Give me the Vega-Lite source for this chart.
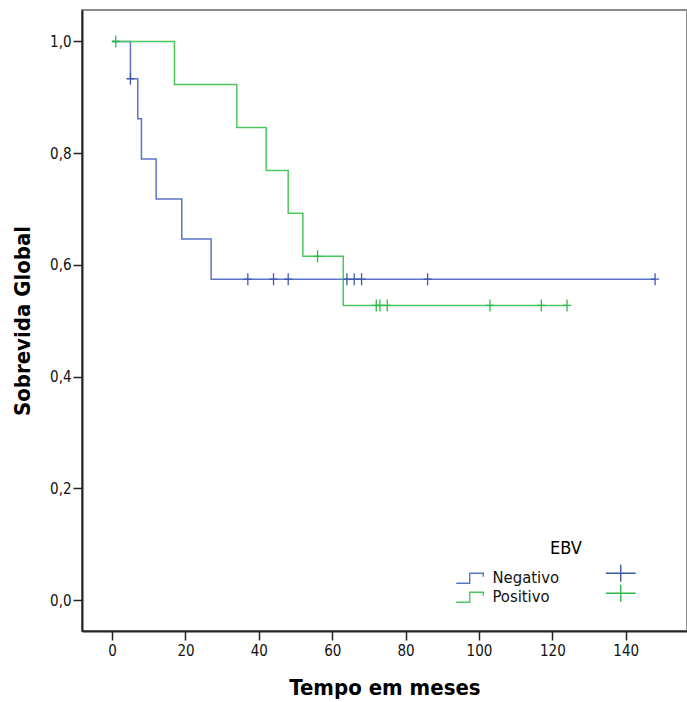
{
  "$schema": "https://vega.github.io/schema/vega-lite/v6.json",
  "width": 605,
  "height": 621,
  "autosize": "none",
  "padding": {"left": 82, "top": 10, "right": 0, "bottom": 71},
  "background": "white",
  "config": {
    "view": {"stroke": "#8c8c8c", "strokeWidth": 2},
    "font": "DejaVu Sans Condensed",
    "axis": {
      "domainColor": "#222222",
      "domainWidth": 2,
      "tickColor": "#222222",
      "tickWidth": 1.5,
      "tickSize": 9,
      "grid": false,
      "labelFont": "DejaVu Sans Condensed",
      "labelFontSize": 15,
      "labelColor": "#111111",
      "titleFont": "DejaVu Sans Condensed",
      "titleFontSize": 22,
      "titleFontWeight": "bold",
      "titleColor": "#000000"
    }
  },
  "datasets": {
    "curva": [
      {"EBV": "Negativo", "tempo": 0, "sobrevida": 1.0},
      {"EBV": "Negativo", "tempo": 5, "sobrevida": 0.9333},
      {"EBV": "Negativo", "tempo": 7, "sobrevida": 0.8615},
      {"EBV": "Negativo", "tempo": 8, "sobrevida": 0.7897},
      {"EBV": "Negativo", "tempo": 12, "sobrevida": 0.7179},
      {"EBV": "Negativo", "tempo": 19, "sobrevida": 0.6462},
      {"EBV": "Negativo", "tempo": 27, "sobrevida": 0.5744},
      {"EBV": "Negativo", "tempo": 148, "sobrevida": 0.5744},
      {"EBV": "Positivo", "tempo": 0, "sobrevida": 1.0},
      {"EBV": "Positivo", "tempo": 17, "sobrevida": 0.9231},
      {"EBV": "Positivo", "tempo": 34, "sobrevida": 0.8462},
      {"EBV": "Positivo", "tempo": 42, "sobrevida": 0.7692},
      {"EBV": "Positivo", "tempo": 48, "sobrevida": 0.6923},
      {"EBV": "Positivo", "tempo": 52, "sobrevida": 0.6154},
      {"EBV": "Positivo", "tempo": 63, "sobrevida": 0.5275},
      {"EBV": "Positivo", "tempo": 124, "sobrevida": 0.5275}
    ],
    "censura": [
      {"grupo": "Negativo", "tempo": 5, "sobrevida": 0.9333},
      {"grupo": "Negativo", "tempo": 37, "sobrevida": 0.5744},
      {"grupo": "Negativo", "tempo": 44, "sobrevida": 0.5744},
      {"grupo": "Negativo", "tempo": 48, "sobrevida": 0.5744},
      {"grupo": "Negativo", "tempo": 64, "sobrevida": 0.5744},
      {"grupo": "Negativo", "tempo": 66, "sobrevida": 0.5744},
      {"grupo": "Negativo", "tempo": 68, "sobrevida": 0.5744},
      {"grupo": "Negativo", "tempo": 86, "sobrevida": 0.5744},
      {"grupo": "Negativo", "tempo": 148, "sobrevida": 0.5744},
      {"grupo": "Positivo", "tempo": 1, "sobrevida": 1.0},
      {"grupo": "Positivo", "tempo": 56, "sobrevida": 0.6154},
      {"grupo": "Positivo", "tempo": 72, "sobrevida": 0.5275},
      {"grupo": "Positivo", "tempo": 73, "sobrevida": 0.5275},
      {"grupo": "Positivo", "tempo": 75, "sobrevida": 0.5275},
      {"grupo": "Positivo", "tempo": 103, "sobrevida": 0.5275},
      {"grupo": "Positivo", "tempo": 117, "sobrevida": 0.5275},
      {"grupo": "Positivo", "tempo": 124, "sobrevida": 0.5275}
    ]
  },
  "encoding": {
    "x": {
      "field": "tempo",
      "type": "quantitative",
      "scale": {"domain": [-8.2, 156.7], "nice": false, "zero": false},
      "axis": {"title": "Tempo em meses", "values": [0, 20, 40, 60, 80, 100, 120, 140], "labelPadding": 3, "titlePadding": 19}
    },
    "y": {
      "field": "sobrevida",
      "type": "quantitative",
      "scale": {"domain": [-0.0555, 1.0564], "nice": false, "zero": false},
      "axis": {"title": "Sobrevida Global", "values": [0, 0.2, 0.4, 0.6, 0.8, 1.0], "labelExpr": "replace(format(datum.value, '.1f'), '.', ',')", "labelPadding": 2, "titlePadding": 15}
    }
  },
  "layer": [
    {
      "data": {"name": "curva"},
      "mark": {"type": "line", "interpolate": "step-after", "strokeWidth": 1.5},
      "encoding": {
        "color": {
          "field": "EBV",
          "type": "nominal",
          "scale": {"domain": ["Negativo", "Positivo"], "range": ["#5a75c6", "#4cc760"]},
          "legend": {
            "orient": "none",
            "legendX": 379.5,
            "legendY": 530,
            "title": "EBV",
            "titleFont": "DejaVu Sans Condensed",
            "titleFontSize": 18,
            "titleFontWeight": "normal",
            "titleColor": "#000000",
            "titlePadding": 12,
            "labelFont": "DejaVu Sans Condensed",
            "labelFontSize": 16.5,
            "labelColor": "#111111",
            "labelOffset": 14.5,
            "rowPadding": 2,
            "symbolType": "M-1.93,0.71H0V-0.71H1.93V-0.2",
            "symbolSize": 196,
            "symbolStrokeWidth": 1.4,
            "symbolFillColor": "transparent",
            "encode": {"title": {"update": {"dx": {"value": 88.5}}}}
          }
        }
      }
    },
    {
      "data": {"name": "censura"},
      "mark": {"type": "point", "shape": "M-0.67,0H0.67M0,-1V1", "size": 144, "filled": false, "strokeWidth": 1.3, "opacity": 1},
      "encoding": {
        "color": {
          "field": "grupo",
          "type": "nominal",
          "scale": {"domain": ["Negativo", "Positivo"], "range": ["#3e58ac", "#2eb848"]},
          "legend": {
            "orient": "none",
            "legendX": 530.5,
            "legendY": 555,
            "title": null,
            "labelExpr": "''",
            "labelFont": "DejaVu Sans Condensed",
            "labelFontSize": 16.5,
            "rowPadding": -4,
            "symbolType": "M-2.14,0H2.14M0,-1.21V1.21",
            "symbolSize": 196,
            "symbolStrokeWidth": 1.4,
            "symbolFillColor": "transparent"
          }
        }
      }
    }
  ],
  "resolve": {"scale": {"color": "independent"}, "legend": {"color": "independent"}}
}
